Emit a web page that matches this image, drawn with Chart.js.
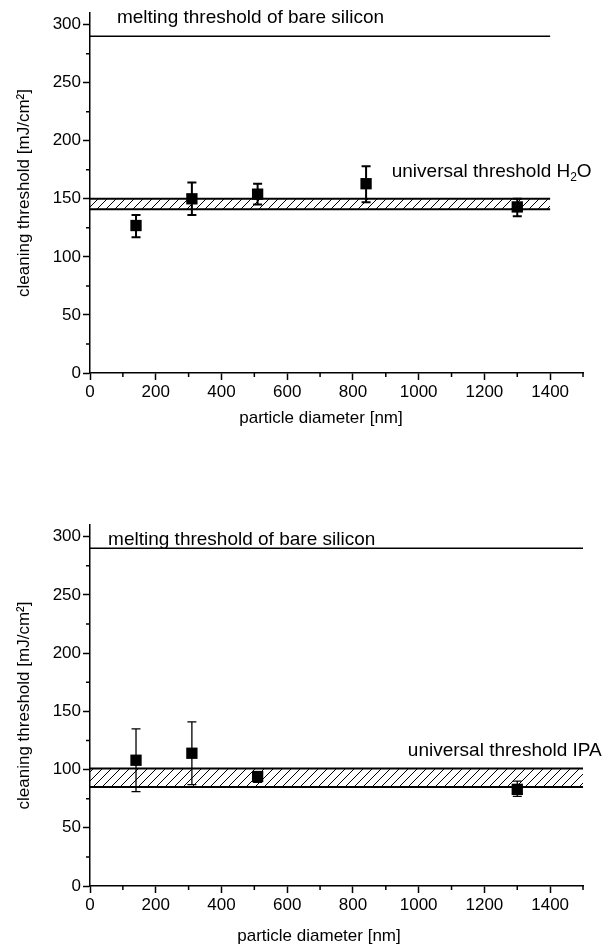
<!DOCTYPE html>
<html><head><meta charset="utf-8">
<script src="https://cdn.jsdelivr.net/npm/chart.js@4/dist/chart.umd.min.js"></script>
<style>
html,body{margin:0;padding:0;background:#fff;}
#wrap{width:606px;height:950px;position:relative;overflow:hidden;}
canvas{position:absolute;left:0;}
</style></head>
<body><div id="wrap">
<canvas id="c1" width="606" height="475" style="top:0"></canvas>
<canvas id="c2" width="606" height="475" style="top:475px"></canvas>
</div>
<script>
// ---- data ----
const xTickValues = [0, 200, 400, 600, 800, 1000, 1200, 1400];
const xMinorTicks = [100, 300, 500, 700, 900, 1100, 1300, 1500];
const yTickValues = [0, 50, 100, 150, 200, 250, 300];
const yMinorTicks = [25, 75, 125, 175, 225, 275];

const meltingThreshold = 290;

const diameterH2O = [140, 310, 510, 840, 1300];
const thresholdH2O = [127, 150, 154, 163, 143];
const errLowH2O = [117, 136, 145, 147, 135];
const errHighH2O = [136, 164, 163, 178, 150];
const bandH2O = [141, 150];
const rangeEndH2O = 1400;

const diameterIPA = [140, 310, 510, 1300];
const thresholdIPA = [108, 114, 94, 83];
const errLowIPA = [81, 87, 89, 77];
const errHighIPA = [135, 141, 98, 90];
const bandIPA = [85, 101];
const rangeEndIPA = 1500;

const meltingLabel = 'melting threshold of bare silicon';
const labelH2O = [['universal threshold H', false], ['2', true], ['O', false]];
const labelIPA = [['universal threshold IPA', false]];
const xTitle = 'particle diameter [nm]';
const yTitle = 'cleaning threshold [mJ/cm\u00B2]';

// ---- helpers ----
const FONT = '"Liberation Sans", Arial, Helvetica, sans-serif';
const TICK_FONT = 17, TITLE_FONT = 17, ANN_FONT = 19;

function hatchPattern(ctx) {
  const s = 9;
  const c = document.createElement('canvas'); c.width = s; c.height = s;
  const g = c.getContext('2d');
  g.strokeStyle = '#000'; g.lineWidth = 1;
  g.beginPath();
  g.moveTo(0, s); g.lineTo(s, 0);
  g.moveTo(-1, 1); g.lineTo(1, -1);
  g.moveTo(s - 1, s + 1); g.lineTo(s + 1, s - 1);
  g.stroke();
  return ctx.createPattern(c, 'repeat');
}

function drawParts(ctx, parts, x, y, size) {
  let cx = x;
  for (const [t, sub] of parts) {
    const fs = sub ? Math.round(size * 0.62) : size;
    ctx.font = fs + 'px ' + FONT;
    ctx.fillText(t, cx, sub ? y + size * 0.22 : y);
    cx += ctx.measureText(t).width;
  }
}

function makeChart(canvas, o) {
  const ctx = canvas.getContext('2d');
  const pts = o.xs.map((x, i) => ({x: x, y: o.ys[i]}));
  const bandLo = [{x: 0, y: o.band[0]}, {x: o.end, y: o.band[0]}];
  const bandHi = [{x: 0, y: o.band[1]}, {x: o.end, y: o.band[1]}];
  const melt = [{x: 0, y: meltingThreshold}, {x: o.meltEnd, y: meltingThreshold}];

  const plugin = {
    id: 'extras',
    afterDatasetsDraw(chart) {
      const c = chart.ctx, xs = chart.scales.x, ys = chart.scales.y;
      c.save();
      c.strokeStyle = '#000'; c.lineWidth = o.errWidth;
      o.xs.forEach((x, i) => {
        const px = xs.getPixelForValue(x);
        const lo = ys.getPixelForValue(o.lo[i]);
        const hi = ys.getPixelForValue(o.hi[i]);
        c.beginPath();
        c.moveTo(px, lo); c.lineTo(px, hi);
        c.moveTo(px - 4.5, lo); c.lineTo(px + 4.5, lo);
        c.moveTo(px - 4.5, hi); c.lineTo(px + 4.5, hi);
        c.stroke();
      });
      c.restore();
    },
    afterDraw(chart) {
      const c = chart.ctx, xs = chart.scales.x, ys = chart.scales.y, a = chart.chartArea;
      c.save();
      c.strokeStyle = '#000'; c.lineWidth = 1.5;
      c.beginPath();
      xMinorTicks.forEach(v => { const p = xs.getPixelForValue(v); c.moveTo(p, a.bottom); c.lineTo(p, a.bottom + 4); });
      yMinorTicks.forEach(v => { const p = ys.getPixelForValue(v); c.moveTo(a.left, p); c.lineTo(a.left - 4, p); });
      c.stroke();
      c.fillStyle = '#000'; c.textBaseline = 'alphabetic'; c.textAlign = 'left';
      c.font = ANN_FONT + 'px ' + FONT;
      c.fillText(meltingLabel, xs.getPixelForValue(o.meltLabel[0]), ys.getPixelForValue(o.meltLabel[1]));
      drawParts(c, o.label, xs.getPixelForValue(o.labelPos[0]), ys.getPixelForValue(o.labelPos[1]), ANN_FONT);
      // x axis title
      c.font = TITLE_FONT + 'px ' + FONT;
      c.textAlign = 'center'; c.textBaseline = 'middle';
      c.fillText(xTitle, o.xTitleX, o.xTitleY);
      c.restore();
    }
  };

  return new Chart(ctx, {
    type: 'line',
    data: {
      datasets: [
        {data: melt, borderColor: '#000', borderWidth: 1.5, pointRadius: 0, fill: false},
        {data: bandLo, borderColor: '#000', borderWidth: 2, pointRadius: 0, fill: false},
        {data: bandHi, borderColor: '#000', borderWidth: 2, pointRadius: 0, fill: '-1',
         backgroundColor: hatchPattern(ctx)},
        {data: pts, showLine: false, pointStyle: 'rect', pointRadius: 8,
         pointBackgroundColor: '#000', pointBorderWidth: 0, borderColor: '#000'}
      ]
    },
    options: {
      responsive: false, animation: false,
      layout: {padding: {left: 0, right: 23, top: o.padTop, bottom: 0}},
      plugins: {legend: {display: false}, tooltip: {enabled: false}},
      scales: {
        x: {
          type: 'linear', min: 0, max: 1500,
          afterBuildTicks: s => { s.ticks = xTickValues.map(v => ({value: v})); },
          afterFit: s => { s.height = o.xHeight; },
          ticks: {color: '#000', font: {family: FONT, size: TICK_FONT}, padding: 2, maxRotation: 0,
                  autoSkip: false, callback: v => String(v)},
          grid: {drawOnChartArea: false, drawTicks: true, tickLength: 7, tickWidth: 1.5, tickColor: '#000'},
          border: {display: true, color: '#000', width: 1.5},
          title: {display: false}
        },
        y: {
          type: 'linear', min: 0, max: 310,
          afterBuildTicks: s => { s.ticks = yTickValues.map(v => ({value: v})); },
          afterFit: s => { s.width = 90; },
          ticks: {color: '#000', font: {family: FONT, size: TICK_FONT}, padding: 2, callback: v => String(v)},
          grid: {drawOnChartArea: false, drawTicks: true, tickLength: 7, tickWidth: 1.5, tickColor: '#000'},
          border: {display: true, color: '#000', width: 1.5},
          title: {display: true, text: yTitle, color: '#000', font: {family: FONT, size: TITLE_FONT},
                  padding: {top: 14, bottom: 0}}
        }
      }
    },
    plugins: [plugin]
  });
}

makeChart(document.getElementById('c1'), {
  xs: diameterH2O, ys: thresholdH2O, lo: errLowH2O, hi: errHighH2O,
  band: bandH2O, end: rangeEndH2O, meltEnd: rangeEndH2O, errWidth: 2,
  padTop: 13, xHeight: 102, xTitleX: 321, xTitleY: 418,
  meltLabel: [82, 301], label: labelH2O, labelPos: [918, 169]
});
makeChart(document.getElementById('c2'), {
  xs: diameterIPA, ys: thresholdIPA, lo: errLowIPA, hi: errHighIPA,
  band: bandIPA, end: rangeEndIPA, meltEnd: rangeEndIPA, errWidth: 1.3,
  padTop: 50, xHeight: 64, xTitleX: 319, xTitleY: 461,
  meltLabel: [55, 293], label: labelIPA, labelPos: [967, 112]
});
</script>
</body></html>
